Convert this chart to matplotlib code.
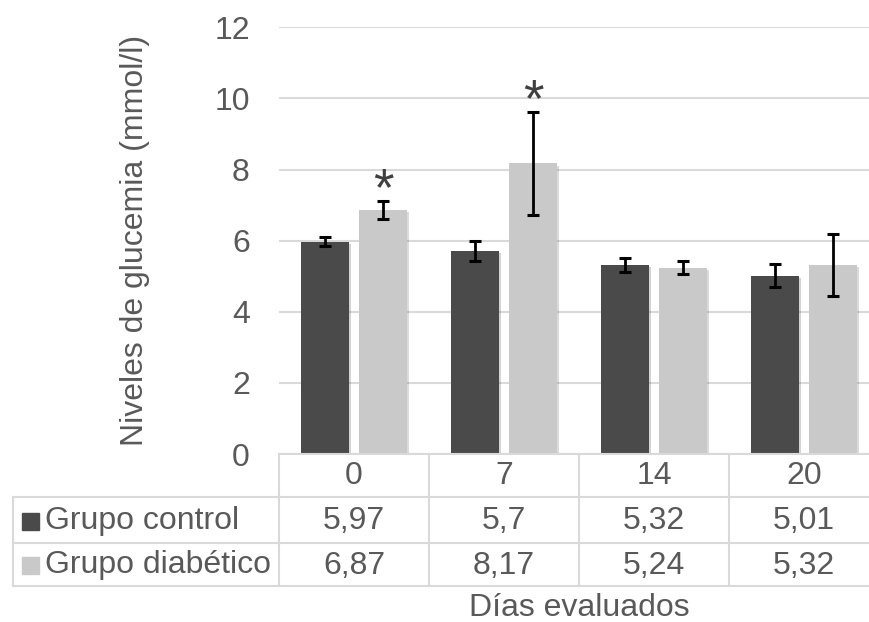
import matplotlib.pyplot as plt
import matplotlib.patheffects as pe
from matplotlib.transforms import blended_transform_factory
import numpy as np

plt.rcParams['font.family'] = ['Liberation Sans', 'DejaVu Sans']

dias = ['0', '7', '14', '20']
grupos = ['Grupo control', 'Grupo diabético']
control = [5.97, 5.7, 5.32, 5.01]
diabetico = [6.87, 8.17, 5.24, 5.32]
err_control = [0.12, 0.28, 0.19, 0.32]
err_diabetico = [0.25, 1.45, 0.18, 0.88]
# asteriscos de significancia sobre el grupo diabético
signif = [True, True, False, False]

c_ctrl = '#4a4a4a'
c_diab = '#c9c9c9'
txt = '#595959'
grid = '#d9d9d9'
fs = 23

W, H = 869, 622
fig = plt.figure(figsize=(W / 100, H / 100), dpi=100)

# área del gráfico en píxeles: x 279..879, y 27..454
x0, x1, y_top, y_bot = 279, 879, 27.3, 454
ax = fig.add_axes([x0 / W, 1 - y_bot / H, (x1 - x0) / W, (y_bot - y_top) / H])

x = np.arange(len(dias))
w = 0.32
off = 0.193
shadow = [pe.SimplePatchShadow(offset=(1.5, -1.5), alpha=0.18), pe.Normal()]
b1 = ax.bar(x - off, control, w, color=c_ctrl, zorder=3)
b2 = ax.bar(x + off, diabetico, w, color=c_diab, zorder=3)
for b in list(b1) + list(b2):
    b.set_path_effects(shadow)

ax.errorbar(x - off, control, yerr=err_control, fmt='none', ecolor='black',
            elinewidth=2, capsize=4.3, capthick=2.2, zorder=4)
ax.errorbar(x + off, diabetico, yerr=err_diabetico, fmt='none', ecolor='black',
            elinewidth=2, capsize=4.3, capthick=2.2, zorder=4)

for i, s in enumerate(signif):
    if s:
        ax.annotate('*', xy=(x[i] + off, diabetico[i] + err_diabetico[i]),
                    xytext=(0, -3), textcoords='offset points',
                    ha='center', va='baseline', fontsize=38, color='#404040',
                    zorder=5)

ax.set_xlim(-0.5, 3.5)
ax.set_ylim(0, 12)
ax.set_yticks(range(0, 13, 2))
ax.set_xticks([])
ax.tick_params(axis='y', length=0, pad=21, labelsize=fs, labelcolor=txt)
ax.grid(axis='y', color=grid, linewidth=1.5, zorder=0)
for sp in ax.spines.values():
    sp.set_visible(False)
ax.set_ylabel('Niveles de glucemia (mmol/l)', fontsize=fs, color=txt, labelpad=46)

# tabla de datos bajo el eje, en píxeles de figura
ov = fig.add_axes([0, 0, 1, 1], zorder=10)
ov.set_xlim(0, W)
ov.set_ylim(H, 0)
ov.axis('off')
tr = blended_transform_factory(ax.transData, ov.transData)

rows = [454, 497, 543, 586]
xl = 13
edges = np.arange(len(dias)) - 0.5
lw = 1.5
ov.plot([x0, W], [rows[0], rows[0]], color=grid, lw=lw)
for r in rows[1:]:
    ov.plot([xl, W], [r, r], color=grid, lw=lw)
ov.plot([xl, xl], [rows[1], rows[3]], color=grid, lw=lw)
for e in edges:
    ov.plot([e, e], [rows[0], rows[3]], color=grid, lw=lw, transform=tr)

ymid = [(rows[i] + rows[i + 1]) / 2 + 1 for i in range(3)]
for i, d in enumerate(dias):
    ov.text(x[i], ymid[0], d, transform=tr, ha='center', va='center',
            fontsize=fs, color=txt)
    ov.text(x[i], ymid[1], f'{control[i]:g}'.replace('.', ','), transform=tr,
            ha='center', va='center', fontsize=fs, color=txt)
    ov.text(x[i], ymid[2], f'{diabetico[i]:g}'.replace('.', ','), transform=tr,
            ha='center', va='center', fontsize=fs, color=txt)

for j, (g, c) in enumerate(zip(grupos, [c_ctrl, c_diab])):
    yc = ymid[j + 1]
    ov.add_patch(plt.Rectangle((22, yc - 8.5), 17, 17, color=c))
    ov.text(45, yc, g, ha='left', va='center', fontsize=fs, color=txt)

ov.text((x0 + x1) / 2, 608, 'Días evaluados', ha='center', va='center',
        fontsize=fs, color=txt)

fig.savefig('out.png', dpi=100)
